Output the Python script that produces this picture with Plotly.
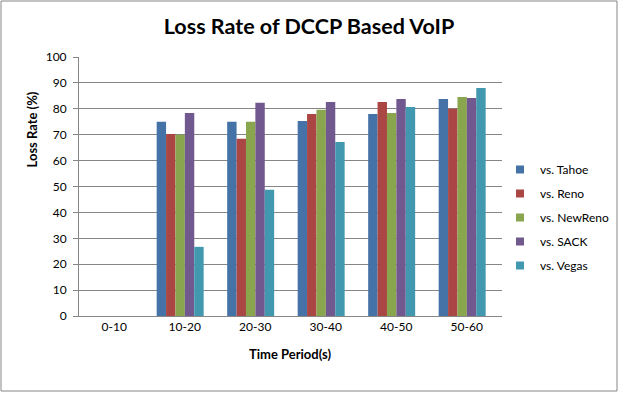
import plotly.graph_objects as go

categories = ["0-10", "10-20", "20-30", "30-40", "40-50", "50-60"]
series_names = ["vs. Tahoe", "vs. Reno", "vs. NewReno", "vs. SACK", "vs. Vegas"]
tahoe = [0, 75, 75, 75.3, 78, 83.8]
reno = [0, 70.3, 68.4, 78, 82.6, 80]
newreno = [0, 70, 75, 79.6, 78.4, 84.6]
sack = [0, 78.4, 82.3, 82.6, 83.8, 84.2]
vegas = [0, 26.7, 48.7, 67.2, 80.7, 88]
y_ticks = list(range(0, 101, 10))

values = [tahoe, reno, newreno, sack, vegas]
colors = ["#4572A7", "#AA4643", "#89A54E", "#71588F", "#4198AF"]

W, H = 619, 393
L, R, T, B = 79, 502, 57, 316
pw, ph = R - L, B - T

def px(x):
    return (x - L) / pw

def py(y):
    return (B - y) / ph

FONT = "Lato"
BAR_W = 0.1333
GROUP_START = -0.3333 - 0.065

fig = go.Figure()
for i, (name, vals, c) in enumerate(zip(series_names, values, colors)):
    fig.add_trace(go.Bar(x=categories, y=vals, name=name, marker=dict(color=c, line=dict(width=0)),
                         width=BAR_W, offset=GROUP_START + i * BAR_W, showlegend=False))
for i, (name, c) in enumerate(zip(series_names, colors)):
    fig.add_trace(go.Scatter(x=[None], y=[None], mode="markers", name=name, legendgroup=str(i),
                             marker=dict(symbol="square", size=8, color=c)))

fig.update_layout(
    width=W, height=H,
    margin=dict(l=L, r=W - R, t=T, b=H - B, autoexpand=False),
    paper_bgcolor="white", plot_bgcolor="white",
    barmode="group",
    font=dict(family=FONT, size=12, color="black"),
    title=dict(text="<b>Loss Rate of DCCP Based VoIP</b>", x=309 / W, xanchor="center",
               y=1 - 26 / H, yanchor="middle", font=dict(family=FONT, size=21.5, color="black")),
    legend=dict(xref="container", yref="container", x=500 / W, xanchor="left", y=1 - 155 / H,
                yanchor="top", tracegroupgap=5,
                font=dict(family=FONT, size=12), itemwidth=30, bgcolor="rgba(0,0,0,0)"),
    xaxis=dict(showline=True, linecolor="#868686", linewidth=1, ticks="", showgrid=False,
               tickfont=dict(family=FONT, size=12), range=[-0.5, 5.5]),
    yaxis=dict(range=[0, 100], tickvals=y_ticks, showline=True, linecolor="#868686", linewidth=1,
               ticks="outside", ticklen=5, tickcolor="#868686", showgrid=True, gridcolor="#868686",
               gridwidth=1, tickfont=dict(family=FONT, size=12), zeroline=False, ticklabelstandoff=4),
    shapes=[dict(type="rect", xref="paper", yref="paper", x0=px(1), x1=px(617), y0=py(391), y1=py(1),
                 line=dict(color="#868686", width=1), fillcolor="rgba(0,0,0,0)", layer="below")],
    annotations=[
        dict(text="<b>Loss Rate (%)</b>", xref="paper", yref="paper", x=px(31), y=py(129.5),
             textangle=-90, showarrow=False, xanchor="center", yanchor="middle",
             font=dict(family=FONT, size=13)),
        dict(text="<b>Time Period(s)</b>", xref="paper", yref="paper", x=px(289.5), y=py(354),
             showarrow=False, xanchor="center", yanchor="middle", font=dict(family=FONT, size=13)),
    ],
)

fig.write_html("out.html", config={"displayModeBar": False, "staticPlot": True},
               post_script="document.body.style.margin='0';document.body.style.overflow='hidden';")
